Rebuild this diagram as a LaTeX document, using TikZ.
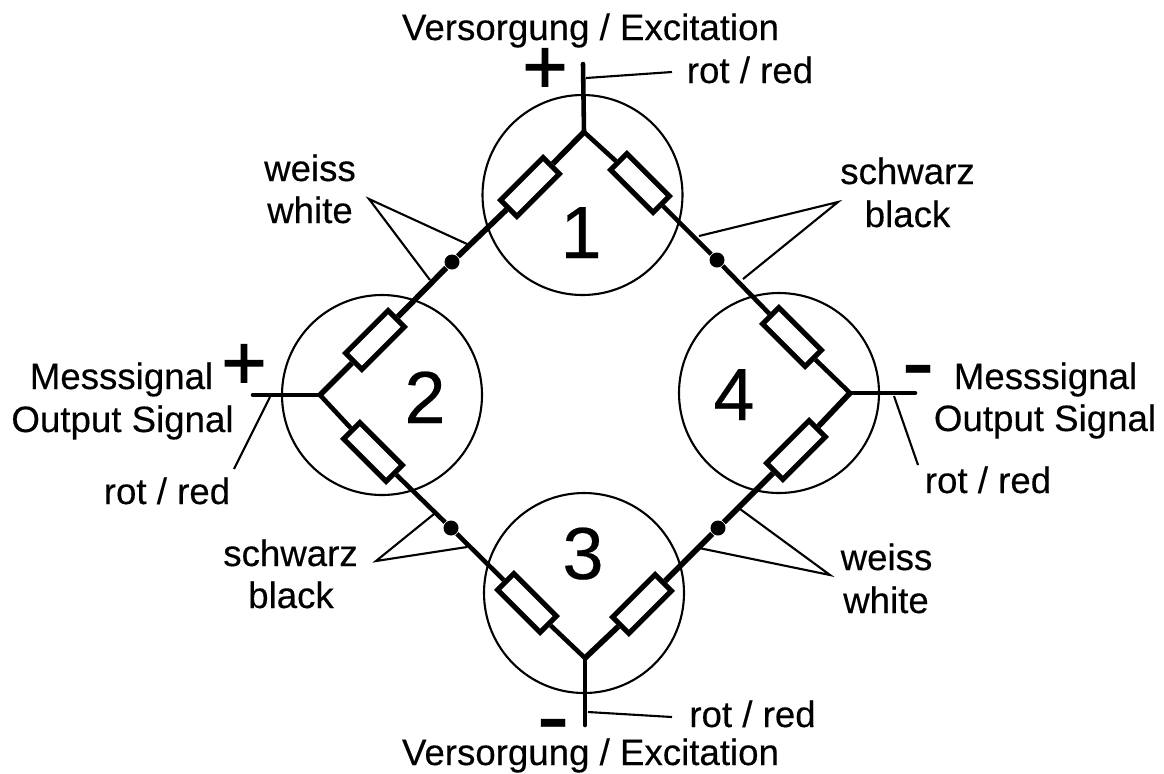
\documentclass[tikz,border=0pt]{standalone}
\usepackage{fontspec}
\setmainfont[RawFeature={embolden=0.3}]{Liberation Sans}
\newfontfamily\signfont[RawFeature={embolden=1.6}]{Liberation Sans}
\usetikzlibrary{shapes}
\tikzset{
    txt/.style={anchor=base,inner sep=0pt,font=\fontsize{10.43}{12}\selectfont},
    digit/.style={anchor=base,inner sep=0pt,font=\fontsize{21}{25}\selectfont},
    plus/.style={anchor=base,inner sep=0pt,font=\signfont\fontsize{22}{25}\selectfont},
    minus/.style={anchor=base,inner sep=0pt,font=\fontsize{28}{30}\selectfont},
    ring/.style={draw,circle,line width=0.6pt,minimum size=2cm,inner sep=0pt},
    res/.style={draw,fill=white,rectangle,line width=1.45pt,minimum width=0.6cm,minimum height=0.23cm,inner sep=0pt},
    dot/.style={fill,circle,minimum size=0.15cm,inner sep=0pt},
    heavy/.style={line width=1.6pt},
    wire/.style={line width=1.3pt},
    leader/.style={line width=0.6pt}
}
\begin{document}
\begin{tikzpicture}
        \useasboundingbox (0,0) rectangle (11.64,-7.73);

        \node (ring1) [ring] at (5.825,-1.95) {};
        \node (ring2) [ring] at (3.82,-3.95) {};
        \node (ring3) [ring] at (5.84,-5.93) {};
        \node (ring4) [ring] at (7.79,-3.93) {};

        \coordinate (jtop) at (5.84,-1.32);
        \coordinate (jleft) at (3.20,-3.95);
        \coordinate (jbottom) at (5.85,-6.58);
        \coordinate (jright) at (8.50,-3.93);

        \coordinate (ptop) at (5.83,-0.64);
        \coordinate (pleft) at (2.53,-3.95);
        \coordinate (pbottom) at (5.85,-7.25);
        \coordinate (pright) at (9.15,-3.93);

        \node (r1) [res,rotate=45] at (5.30,-1.87) {};
        \node (r2) [res,rotate=-45] at (6.40,-1.83) {};
        \node (r3) [res,rotate=45] at (3.75,-3.40) {};
        \node (r4) [res,rotate=-45] at (3.73,-4.52) {};
        \node (r5) [res,rotate=-45] at (5.27,-6.03) {};
        \node (r6) [res,rotate=45] at (6.42,-6.04) {};
        \node (r7) [res,rotate=-45] at (7.92,-3.37) {};
        \node (r8) [res,rotate=45] at (7.96,-4.50) {};

        \node (d1) [dot] at (4.52,-2.62) {};
        \node (d2) [dot] at (7.17,-2.60) {};
        \node (d3) [dot] at (4.51,-5.28) {};
        \node (d4) [dot] at (7.18,-5.28) {};

        \draw [heavy] (jtop) -- (r1) -- (d1) -- (r3) -- (jleft);
        \draw [wire] (jtop) -- (r2) -- (d2) -- (r7) -- (jright);
        \draw [wire] (jleft) -- (r4) -- (d3) -- (r5) -- (jbottom);
        \draw [heavy] (jbottom) -- (r6) -- (d4) -- (r8) -- (jright);
        \draw [wire,line cap=round] (ptop) -- (jtop);
        \draw [wire,line cap=round] (pleft) -- (jleft);
        \draw [wire,line cap=round] (pbottom) -- (jbottom);
        \draw [wire,line cap=round] (pright) -- (jright);

        \node (sup) [txt] at (5.905,-0.40) {Versorgung / Excitation};
        \node (sdown) [txt] at (5.905,-7.65) {Versorgung / Excitation};
        \node (redtop) [txt] at (7.50,-0.83) {rot / red};
        \node (redbottom) [txt] at (7.525,-7.27) {rot / red};
        \node (redleft) [txt] at (1.67,-5.04) {rot / red};
        \node (redright) [txt] at (9.88,-4.93) {rot / red};
        \node (msl) [txt] at (1.215,-3.89) {Messsignal};
        \node (osl) [txt] at (1.225,-4.32) {Output Signal};
        \node (msr) [txt] at (10.455,-3.89) {Messsignal};
        \node (osr) [txt] at (10.45,-4.31) {Output Signal};
        \node (w1) [txt] at (3.10,-1.81) {weiss};
        \node (w2) [txt] at (3.10,-2.23) {white};
        \node (b1) [txt] at (9.075,-1.84) {schwarz};
        \node (b2) [txt] at (9.075,-2.27) {black};
        \node (b3) [txt] at (2.905,-5.66) {schwarz};
        \node (b4) [txt] at (2.91,-6.08) {black};
        \node (w3) [txt] at (8.865,-5.70) {weiss};
        \node (w4) [txt] at (8.86,-6.13) {white};

        \node (n1) [digit] at (5.81,-2.58) {1};
        \node (n2) [digit] at (4.25,-4.23) {2};
        \node (n3) [digit] at (5.83,-5.79) {3};
        \node (n4) [digit] at (7.34,-4.20) {4};

        \node (ptopsign) [plus] at (5.45,-0.93) {+};
        \node (pleftsign) [plus] at (2.44,-3.89) {+};
        \node (mrightsign) [minus] at (9.18,-3.95) {-};
        \node (mbottomsign) [minus] at (5.53,-7.49) {-};

        \coordinate (wa) at (3.69,-1.99);
        \coordinate (wa1) at (4.67,-2.44);
        \coordinate (wa2) at (4.30,-2.80);
        \draw [leader] (wa1) -- (wa) -- (wa2);

        \coordinate (ba) at (8.38,-2.02);
        \coordinate (ba1) at (6.99,-2.36);
        \coordinate (ba2) at (7.43,-2.79);
        \draw [leader] (ba1) -- (ba) -- (ba2);

        \coordinate (bb) at (3.76,-5.61);
        \coordinate (bb1) at (4.34,-5.14);
        \coordinate (bb2) at (4.67,-5.47);
        \draw [leader] (bb1) -- (bb) -- (bb2);

        \coordinate (wb) at (8.30,-5.75);
        \coordinate (wb1) at (7.40,-5.09);
        \coordinate (wb2) at (6.99,-5.48);
        \draw [leader] (wb1) -- (wb) -- (wb2);

        \coordinate (la) at (5.86,-0.78);
        \coordinate (lb) at (6.72,-0.72);
        \draw [leader] (la) -- (lb);
        \coordinate (lc) at (5.88,-7.12);
        \coordinate (ld) at (6.72,-7.17);
        \draw [leader] (lc) -- (ld);
        \coordinate (le) at (2.70,-3.97);
        \coordinate (lf) at (2.34,-4.69);
        \draw [leader] (le) -- (lf);
        \coordinate (lg) at (8.94,-3.96);
        \coordinate (lh) at (9.18,-4.65);
        \draw [leader] (lg) -- (lh);
    \end{tikzpicture}
\end{document}
